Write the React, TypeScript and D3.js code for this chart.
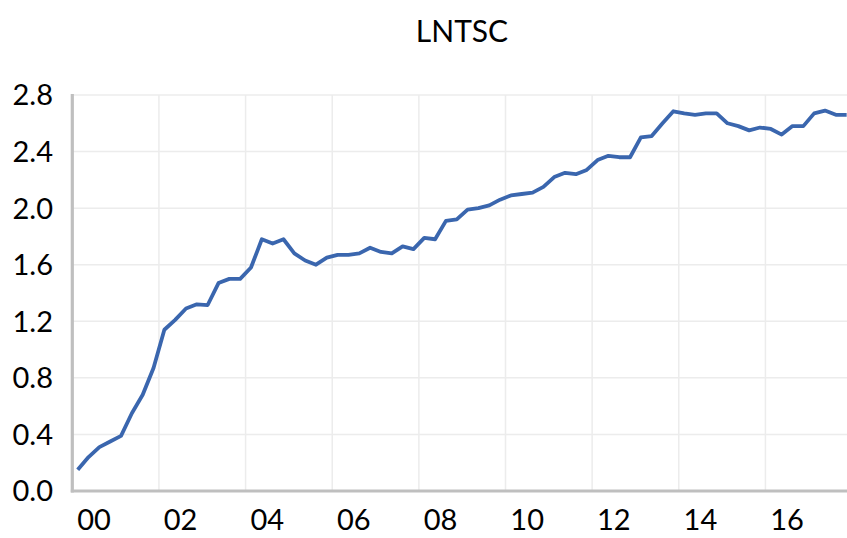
import React from "react";
import * as d3 from "d3";

const title = "LNTSC";
const startYear = 2000;
const quarters: string[] = Array.from({ length: 72 }, (_, i) => `${startYear + Math.floor(i / 4)}Q${(i % 4) + 1}`);
const values: number[] = [
  0.15, 0.24, 0.31, 0.35, 0.39, 0.55, 0.68, 0.87,
  1.14, 1.21, 1.29, 1.32, 1.315, 1.47, 1.50, 1.50,
  1.58, 1.78, 1.75, 1.78, 1.68, 1.63, 1.60, 1.65,
  1.67, 1.67, 1.68, 1.72, 1.69, 1.68, 1.73, 1.71,
  1.79, 1.78, 1.91, 1.92, 1.99, 2.00, 2.02, 2.06,
  2.09, 2.10, 2.11, 2.15, 2.22, 2.25, 2.24, 2.27,
  2.34, 2.37, 2.36, 2.36, 2.50, 2.51, 2.60, 2.685,
  2.67, 2.66, 2.67, 2.67, 2.60, 2.58, 2.55, 2.57,
  2.56, 2.52, 2.58, 2.58, 2.67, 2.69, 2.66, 2.66,
];
const yTicks: number[] = [0.0, 0.4, 0.8, 1.2, 1.6, 2.0, 2.4, 2.8];
const xTickYears: number[] = [2000, 2002, 2004, 2006, 2008, 2010, 2012, 2014, 2016];

const W = 847;
const H = 538;
const FONT = "Lato, 'Open Sans', sans-serif";

export default function App() {
  const x = d3.scaleLinear().domain([-0.5, quarters.length - 0.5]).range([72.3, 72.3 + 10.83 * quarters.length]);
  const y = d3.scaleLinear().domain([0, 2.8]).range([491, 95]);
  const line = d3
    .line<number>()
    .x((_, i) => x(i))
    .y((d) => y(d));
  const yearIndex = (yr: number) => (yr - startYear) * 4;

  return (
    <svg width={W} height={H} style={{ position: "absolute", left: 0, top: 0, background: "#fff" }}>
      <text x={462} y={42} textAnchor="middle" fontFamily={FONT} fontSize={30} fill="#000">
        {title}
      </text>
      {yTicks.slice(1).map((t) => (
        <line key={"hg" + t} x1={x(-0.5)} x2={W} y1={y(t)} y2={y(t)} stroke="#ececec" strokeWidth={1.5} />
      ))}
      {xTickYears.slice(1).map((yr) => (
        <line
          key={"vg" + yr}
          x1={x(yearIndex(yr) - 0.5)}
          x2={x(yearIndex(yr) - 0.5)}
          y1={y(2.8)}
          y2={y(0)}
          stroke="#ececec"
          strokeWidth={1.5}
        />
      ))}
      <path d={line(values) || ""} fill="none" stroke="#3a66ae" strokeWidth={3.8} strokeLinejoin="round" />
      <line x1={x(-0.5)} x2={x(-0.5)} y1={y(2.8) - 1} y2={y(0) + 1.5} stroke="#bfbfbf" strokeWidth={3.2} />
      <line x1={x(-0.5) - 1.5} x2={W} y1={y(0)} y2={y(0)} stroke="#bfbfbf" strokeWidth={3.2} />
      {yTicks.map((t) => (
        <text
          key={"yl" + t}
          x={53}
          y={y(t)}
          dy="0.36em"
          textAnchor="end"
          fontFamily={FONT}
          fontSize={29}
          fill="#000"
        >
          {t.toFixed(1)}
        </text>
      ))}
      {xTickYears.map((yr) => (
        <text
          key={"xl" + yr}
          x={x(yearIndex(yr) + 1.5)}
          y={530}
          textAnchor="middle"
          fontFamily={FONT}
          fontSize={29}
          fill="#000"
        >
          {String(yr % 100).padStart(2, "0")}
        </text>
      ))}
    </svg>
  );
}
